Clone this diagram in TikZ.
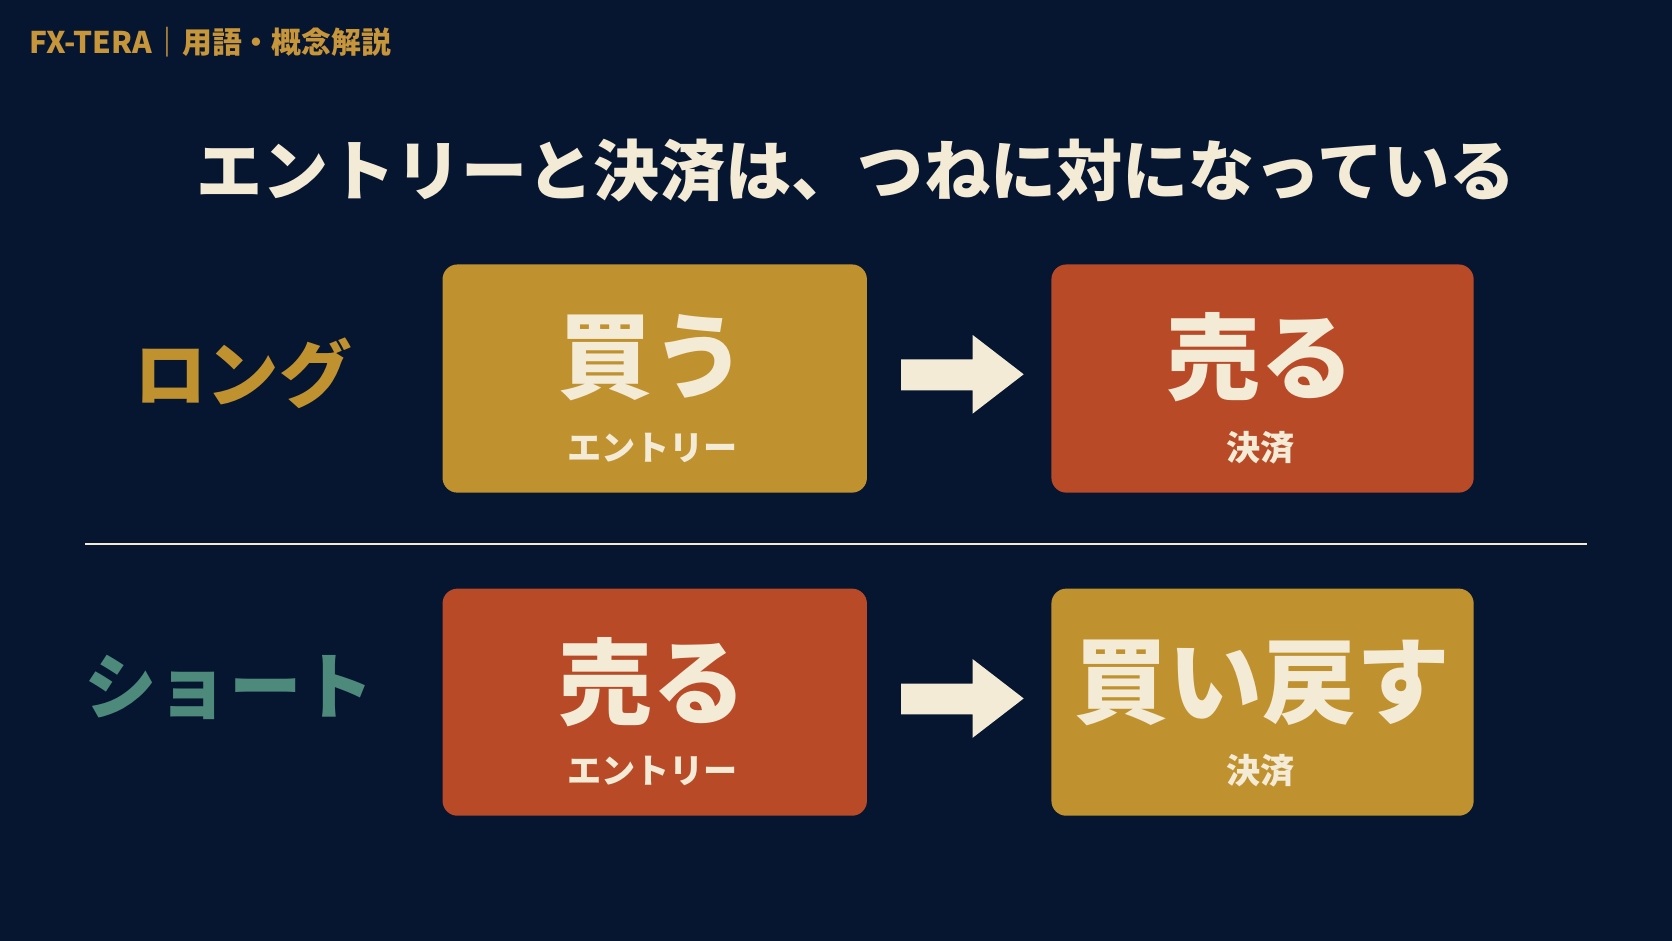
\documentclass[tikz,border=0pt]{standalone}
\usepackage{fontspec}
\newfontfamily\cjk{Noto Sans CJK JP}
\definecolor{bg}{HTML}{061530}
\definecolor{gold}{HTML}{C0922F}
\definecolor{rust}{HTML}{B84A28}
\definecolor{cream}{HTML}{F3EBD6}
\definecolor{teal}{HTML}{4E8A7C}
\definecolor{hdr}{HTML}{C8963A}
\begin{document}
\begin{tikzpicture}[x=1pt,y=-1pt,
  box/.style={rounded corners=14pt,draw=none},
  big/.style={text=cream,font=\cjk\bfseries\fontsize{88}{88}\selectfont,inner sep=0},
  sub/.style={text=cream,font=\cjk\bfseries\fontsize{32}{32}\selectfont,inner sep=0},
  side/.style={font=\cjk\bfseries\fontsize{68}{68}\selectfont,inner sep=0},
  arr/.style={fill=cream,draw=none}]
\fill[bg] (0,0) rectangle (1568,882);
\useasboundingbox (0,0) rectangle (1568,882);
\node[anchor=west,text=hdr,font=\cjk\bfseries\fontsize{28}{28}\selectfont,inner sep=0] (hdr) at (27,40) {FX-TERA｜用語・概念解説};
\node[text=cream,font=\cjk\bfseries\fontsize{62}{62}\selectfont,inner sep=0] (title) at (803,160) {エントリーと決済は、つねに対になっている};
% long row
\fill[box,gold] (415,248) rectangle (813,462);
\fill[box,rust] (986,248) rectangle (1382,462);
\node[big] (b1) at (612,335) {買う};
\node[sub] (s1) at (612,420) {エントリー};
\node[big] (b2) at (1182,335) {売る};
\node[sub] (s2) at (1182,420) {決済};
\node[side,text=gold] (long) at (228,350) {ロング};
\fill[arr] (845,337) -- (912,337) -- (912,314) -- (960,351) -- (912,388) -- (912,366) -- (845,366) -- cycle;
% divider
\draw[cream,line width=2] (80,510) coordinate (d1) -- (1488,510) coordinate (d2);
% short row
\fill[box,rust] (415,552) rectangle (813,765);
\fill[box,gold] (986,552) rectangle (1382,765);
\node[big] (b3) at (612,640) {売る};
\node[sub] (s3) at (612,723) {エントリー};
\node[big] (b4) at (1184,640) {買い戻す};
\node[sub] (s4) at (1182,723) {決済};
\node[side,text=teal] (short) at (215,645) {ショート};
\fill[arr] (845,641) -- (912,641) -- (912,618) -- (960,655) -- (912,692) -- (912,670) -- (845,670) -- cycle;
\end{tikzpicture}
\end{document}
